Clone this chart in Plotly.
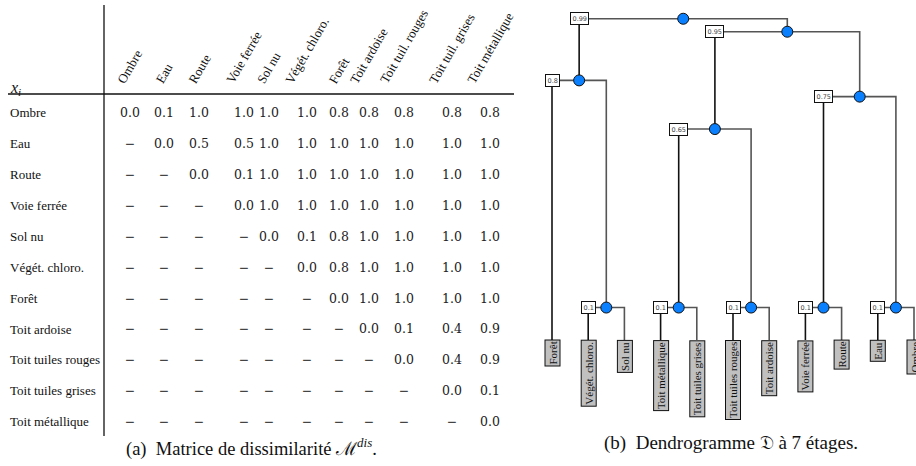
import plotly.graph_objects as go

# ---------------- data ----------------
ROW_LABELS = ["Ombre", "Eau", "Route", "Voie ferrée", "Sol nu", "Végét. chloro.",
              "Forêt", "Toit ardoise", "Toit tuiles rouges", "Toit tuiles grises",
              "Toit métallique"]
COL_LABELS = ["Ombre", "Eau", "Route", "Voie ferrée", "Sol nu", "Végét. chloro.",
              "Forêt", "Toit ardoise", "Toit tuil. rouges", "Toit tuil. grises",
              "Toit métallique"]
N = None
DISSIM = [
    [0.0, 0.1, 1.0, 1.0, 1.0, 1.0, 0.8, 0.8, 0.8, 0.8, 0.8],
    [N, 0.0, 0.5, 0.5, 1.0, 1.0, 1.0, 1.0, 1.0, 1.0, 1.0],
    [N, N, 0.0, 0.1, 1.0, 1.0, 1.0, 1.0, 1.0, 1.0, 1.0],
    [N, N, N, 0.0, 1.0, 1.0, 1.0, 1.0, 1.0, 1.0, 1.0],
    [N, N, N, N, 0.0, 0.1, 0.8, 1.0, 1.0, 1.0, 1.0],
    [N, N, N, N, N, 0.0, 0.8, 1.0, 1.0, 1.0, 1.0],
    [N, N, N, N, N, N, 0.0, 1.0, 1.0, 1.0, 1.0],
    [N, N, N, N, N, N, N, 0.0, 0.1, 0.4, 0.9],
    [N, N, N, N, N, N, N, N, 0.0, 0.4, 0.9],
    [N, N, N, N, N, N, N, N, N, 0.0, 0.1],
    [N, N, N, N, N, N, N, N, N, N, 0.0],
]

LEAVES = ["Forêt", "Végét. chloro.", "Sol nu", "Toit métallique", "Toit tuiles grises",
          "Toit tuiles rouges", "Toit ardoise", "Voie ferrée", "Route", "Eau", "Ombre"]
MERGE_NAMES = ["A", "B", "C", "D", "E", "F", "G", "H", "I", "R"]
MERGE_LEFT = ["Végét. chloro.", "Toit métallique", "Toit tuiles rouges", "Voie ferrée",
              "Eau", "B", "D", "Forêt", "F", "H"]
MERGE_RIGHT = ["Sol nu", "Toit tuiles grises", "Toit ardoise", "Route", "Ombre",
               "C", "E", "A", "G", "I"]
MERGE_HEIGHT = [0.1, 0.1, 0.1, 0.1, 0.1, 0.65, 0.75, 0.8, 0.95, 0.99]

# ---------------- layout constants ----------------
W, H = 916, 466
TABLE_W = 520
FIRST_COL = 130
COL_GAPS = [34, 35, 45, 25, 38, 32, 30, 35, 48, 38]
col_x = [FIRST_COL]
for g in COL_GAPS:
    col_x.append(col_x[-1] + g)

SERIF = "Liberation Serif"
NUMF = "DejaVu Serif"

fig = go.Figure()

# ---------------- table ----------------
vx, vy, vt = [], [], []
for i, row in enumerate(DISSIM):
    for j, v in enumerate(row):
        vx.append(col_x[j])
        vy.append(i)
        vt.append("−" if v is None else f"{v:.1f}")
fig.add_trace(go.Scatter(x=vx, y=vy, text=vt, mode="text", textposition="middle center",
                         textfont=dict(family=NUMF, size=12.5, color="#222"),
                         xaxis="x", yaxis="y", hoverinfo="skip", showlegend=False))
fig.add_trace(go.Scatter(x=[10] * len(ROW_LABELS), y=list(range(len(ROW_LABELS))),
                         text=ROW_LABELS, mode="text", textposition="middle right",
                         textfont=dict(family=SERIF, size=13, color="#111"),
                         xaxis="x", yaxis="y", hoverinfo="skip", showlegend=False))

annotations = []
for j, lab in enumerate(COL_LABELS):
    annotations.append(dict(x=col_x[j], y=1 - 89 / H, xref="x", yref="paper",
                            text=lab, textangle=-60, showarrow=False,
                            xanchor="center", yanchor="bottom",
                            font=dict(family=SERIF, size=13, color="#111")))
annotations.append(dict(x=8, y=1 - 88 / H, xref="x", yref="paper",
                        text="<i>x</i><sub><i>i</i></sub>", showarrow=False,
                        xanchor="left", yanchor="middle",
                        font=dict(family=SERIF, size=16, color="#111")))
annotations.append(dict(x=252 / W, y=1 - 447 / H, xref="paper", yref="paper",
                        text="(a)  Matrice de dissimilarité ℳ<sup><i>dis</i></sup>.",
                        showarrow=False, xanchor="center", yanchor="middle",
                        font=dict(family=SERIF, size=18.5, color="#111")))
annotations.append(dict(x=731 / W, y=1 - 443 / H, xref="paper", yref="paper",
                        text="(b)  Dendrogramme 𝔇 à 7 étages.",
                        showarrow=False, xanchor="center", yanchor="middle",
                        font=dict(family=SERIF, size=19, color="#111")))

shapes = [
    dict(type="line", xref="x", yref="paper", x0=104, x1=104,
         y0=1 - 5 / H, y1=1 - 436 / H, line=dict(color="#111", width=1.3)),
    dict(type="line", xref="x", yref="paper", x0=8, x1=514,
         y0=1 - 94 / H, y1=1 - 94 / H, line=dict(color="#111", width=1.3)),
]

# ---------------- dendrogram ----------------
ax = {name: float(i) for i, name in enumerate(LEAVES)}
ah = {name: 0.0 for name in LEAVES}
dark_x, dark_y, grey_x, grey_y = [], [], [], []
cx, cy = [], []
for name, l, r, h in zip(MERGE_NAMES, MERGE_LEFT, MERGE_RIGHT, MERGE_HEIGHT):
    xl, xr = ax[l], ax[r]
    dark_x += [xl, xl, None]
    dark_y += [ah[l], h, None]
    grey_x += [xl, xr, xr, None]
    grey_y += [h, h, ah[r], None]
    mx = (xl + xr) / 2
    cx.append(mx)
    cy.append(h)
    ax[name] = mx
    ah[name] = h
    annotations.append(dict(x=xl, y=h, xref="x2", yref="y2", text=f"{h:g}",
                            showarrow=False, xanchor="center", yanchor="middle",
                            font=dict(family="DejaVu Sans", size=6.5, color="#444"),
                            bgcolor="white", bordercolor="#111", borderwidth=1,
                            borderpad=1.5))

fig.add_trace(go.Scatter(x=grey_x, y=grey_y, mode="lines",
                         line=dict(color="#555", width=1.6),
                         xaxis="x2", yaxis="y2", hoverinfo="skip", showlegend=False))
fig.add_trace(go.Scatter(x=dark_x, y=dark_y, mode="lines",
                         line=dict(color="#111", width=1.6),
                         xaxis="x2", yaxis="y2", hoverinfo="skip", showlegend=False))
fig.add_trace(go.Scatter(x=cx, y=cy, mode="markers",
                         marker=dict(size=11, color="#0a80ff",
                                     line=dict(color="#111", width=1)),
                         xaxis="x2", yaxis="y2", hoverinfo="skip", showlegend=False))

for i, name in enumerate(LEAVES):
    annotations.append(dict(x=i, y=0, xref="x2", yref="y2", text=name,
                            textangle=-90, showarrow=False,
                            xanchor="center", yanchor="top",
                            font=dict(family=SERIF, size=11, color="#111"),
                            bgcolor="#c0c0c0", bordercolor="#111", borderwidth=1,
                            borderpad=1))

# axis geometry
LEAF_PX0, LEAF_STEP = 552, 36.2
D_DOM0 = 0.55
d_r0 = -(LEAF_PX0 - D_DOM0 * W) / LEAF_STEP
d_r1 = d_r0 + (W - D_DOM0 * W) / LEAF_STEP
H0_PX, H_SCALE = 340, 324.5
h_r0 = -(H - H0_PX) / H_SCALE
h_r1 = h_r0 + H / H_SCALE

ROW0_PX, ROW_PITCH = 114, 30.9
t_top = -ROW0_PX / ROW_PITCH
t_bot = (H - ROW0_PX) / ROW_PITCH

fig.update_layout(
    width=W, height=H, margin=dict(l=0, r=0, t=0, b=0),
    paper_bgcolor="white", plot_bgcolor="rgba(0,0,0,0)",
    xaxis=dict(domain=[0, TABLE_W / W], range=[0, TABLE_W], visible=False),
    yaxis=dict(domain=[0, 1], range=[t_bot, t_top], visible=False),
    xaxis2=dict(domain=[D_DOM0, 1], range=[d_r0, d_r1], visible=False, anchor="y2"),
    yaxis2=dict(domain=[0, 1], range=[h_r0, h_r1], visible=False, anchor="x2"),
    annotations=annotations, shapes=shapes, showlegend=False,
)

fig.write_html("out.html")
